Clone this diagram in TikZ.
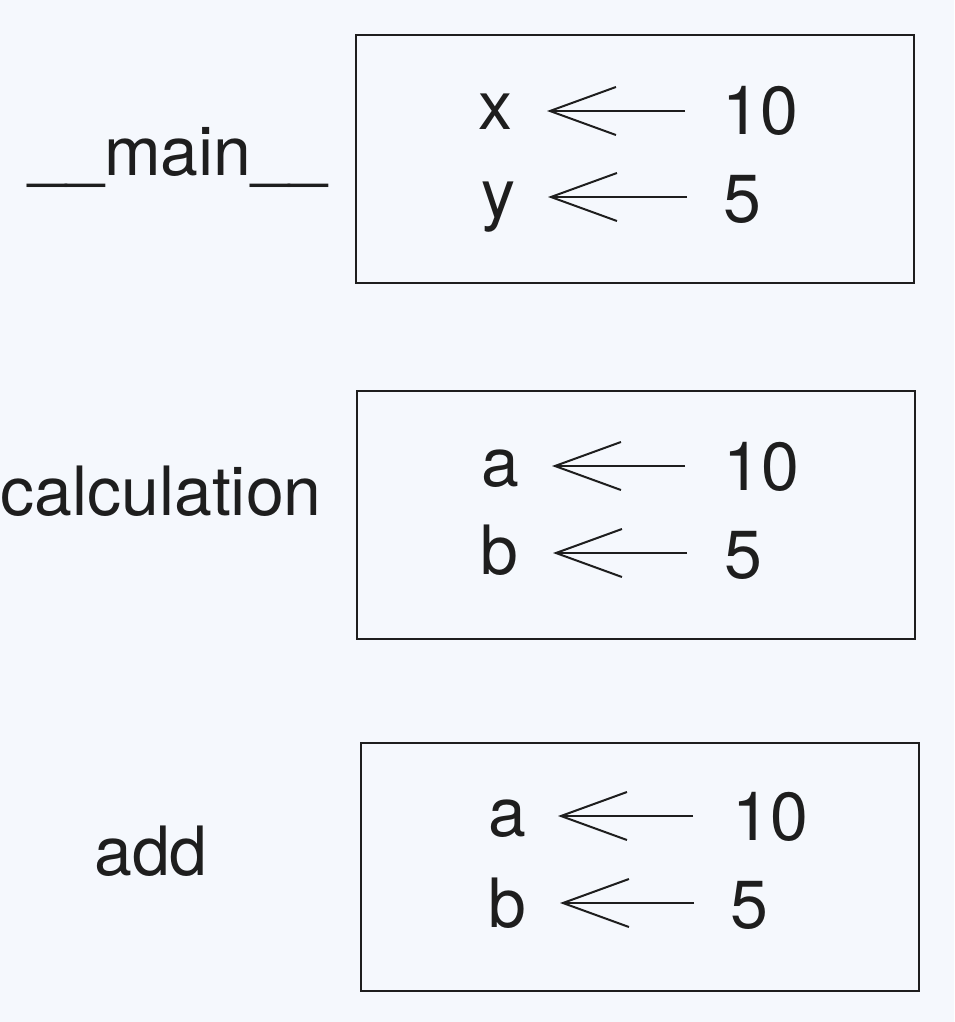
\documentclass[tikz,border=0pt]{standalone}
\usepackage{fontspec}
\setmainfont{TeX Gyre Heros}
\usetikzlibrary{arrows.meta}
\definecolor{bg}{HTML}{F5F8FD}
\definecolor{ink}{HTML}{1E1E1E}
\begin{document}
\begin{tikzpicture}[x=1pt,y=-1pt,
  txt/.style={inner sep=0pt, text=ink, font=\fontsize{68}{80}\selectfont},
  lbl/.style={txt, anchor=base},
  var/.style={txt, anchor=base west},
  memframe/.style={draw=ink, line width=2pt, minimum width=558pt, minimum height=248pt, inner sep=0pt},
  arr/.style={draw=ink, line width=2pt, -{Straight Barb[length=66pt,width=48pt]}}]
\fill[bg] (0,0) rectangle (954,1022);
\useasboundingbox (0,0) rectangle (954,1022);
% frames
\node[memframe] (f1) at (635,159) {};
\node[memframe] (f2) at (636,515) {};
\node[memframe] (f3) at (640,867) {};
% labels
\node[lbl] (l1) at (178,175) {\_\_main\_\_};
\node[lbl] (l2) at (161,515) {calculation};
\node[lbl] (l3) at (151,875) {add};
% frame 1
\node[var] (n11) at (478,130) {x};
\node[var] (v11) at (722,135) {10};
\coordinate (s11) at (685,111); \coordinate (t11) at (547,111);
\draw[arr] (s11) -- (t11);
\node[var] (n12) at (481,217) {y};
\node[var] (v12) at (723,222) {5};
\coordinate (s12) at (687,197); \coordinate (t12) at (548,197);
\draw[arr] (s12) -- (t12);
% frame 2
\node[var] (n21) at (481,486) {a};
\node[var] (v21) at (723,490) {10};
\coordinate (s21) at (685,466); \coordinate (t21) at (552,466);
\draw[arr] (s21) -- (t21);
\node[var] (n22) at (480,574) {b};
\node[var] (v22) at (724,578) {5};
\coordinate (s22) at (687,553); \coordinate (t22) at (553,553);
\draw[arr] (s22) -- (t22);
% frame 3
\node[var] (n31) at (488,836) {a};
\node[var] (v31) at (732,840) {10};
\coordinate (s31) at (693,816); \coordinate (t31) at (558,816);
\draw[arr] (s31) -- (t31);
\node[var] (n32) at (488,927) {b};
\node[var] (v32) at (730,928) {5};
\coordinate (s32) at (694,903); \coordinate (t32) at (560,903);
\draw[arr] (s32) -- (t32);
\end{tikzpicture}
\end{document}
